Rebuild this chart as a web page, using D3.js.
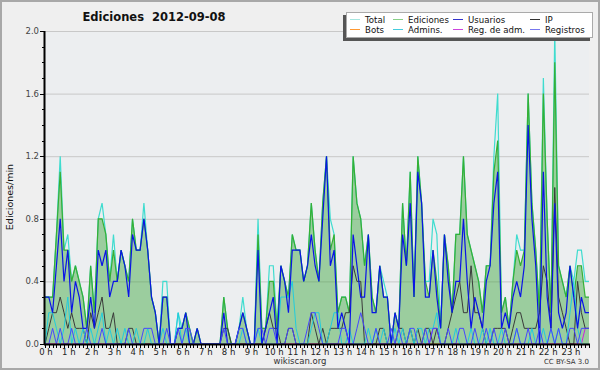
<!DOCTYPE html>
<html>
<head>
<meta charset="utf-8">
<script src="https://cdn.jsdelivr.net/npm/d3@7"></script>
<style>
body { margin: 0; background: #fff; }
svg text { font-family: "DejaVu Sans", sans-serif; }
</style>
</head>
<body>
<div id="chart"></div>
<script>
// 10-minute bins, edits per minute
const hourLabels = d3.range(24).map(function (h) { return h + " h"; });
const yTicks = [0.0, 0.4, 0.8, 1.2, 1.6, 2.0];

const total = [0.3,0.3,0.3,0.7,1.2,0.6,0.7,0.4,0.5,0.4, 0.3,0.1,0.5,0.2,0.8,0.9,0.7,0.4,0.7,0.4,
  0.6,0.5,0.4,0.8,0.6,0.6,0.9,0.6,0.3,0.2, 0.0,0.4,0.4,0.0,0.0,0.2,0.1,0.2,0.1,0.0,
  0.1,0.0,0.0,0.0,0.0,0.0,0.0,0.3,0.1,0.0, 0.0,0.1,0.3,0.1,0.0,0.0,0.8,0.1,0.1,0.5,
  0.5,0.1,0.5,0.4,0.3,0.7,0.6,0.6,0.4,0.5, 0.9,0.6,0.4,0.9,1.2,0.8,0.7,0.2,0.3,0.3,
  0.2,1.2,0.9,0.8,0.5,0.7,0.3,0.2,0.5,0.4, 0.3,0.0,0.2,0.1,0.9,0.5,1.1,0.3,1.2,0.9,
  0.4,0.4,0.8,0.7,0.1,0.7,0.5,0.2,0.7,0.7, 1.2,0.7,0.6,0.5,0.4,0.2,0.5,0.5,1.2,1.6,
  0.2,0.3,0.1,0.4,0.7,0.6,0.6,1.6,0.9,0.6, 0.2,1.7,0.8,0.2,2.0,0.5,0.4,0.3,0.5,0.4,
  0.6,0.6,0.4,0.4];
const edits = [0.3,0.3,0.3,0.7,1.1,0.6,0.6,0.4,0.5,0.4, 0.3,0.1,0.5,0.2,0.8,0.8,0.7,0.4,0.6,0.4,
  0.6,0.5,0.4,0.8,0.6,0.6,0.8,0.6,0.3,0.2, 0.0,0.3,0.3,0.0,0.0,0.1,0.1,0.2,0.1,0.0,
  0.1,0.0,0.0,0.0,0.0,0.0,0.0,0.3,0.1,0.0, 0.0,0.1,0.2,0.1,0.0,0.0,0.7,0.1,0.1,0.4,
  0.4,0.1,0.5,0.4,0.3,0.7,0.6,0.6,0.4,0.5, 0.9,0.6,0.4,0.9,1.2,0.6,0.7,0.2,0.3,0.3,
  0.2,1.2,0.9,0.8,0.5,0.7,0.3,0.2,0.5,0.3, 0.3,0.0,0.2,0.1,0.9,0.5,1.1,0.3,1.2,0.9,
  0.4,0.3,0.6,0.4,0.1,0.7,0.5,0.2,0.7,0.7, 1.2,0.7,0.6,0.5,0.4,0.2,0.5,0.5,1.1,1.3,
  0.2,0.3,0.1,0.4,0.6,0.5,0.6,1.6,0.9,0.6, 0.2,1.6,0.8,0.2,1.8,0.5,0.4,0.3,0.5,0.3,
  0.5,0.5,0.3,0.3];
const users = [0.3,0.3,0.2,0.5,0.8,0.4,0.6,0.2,0.4,0.3, 0.1,0.1,0.3,0.1,0.6,0.5,0.6,0.3,0.4,0.4,
  0.6,0.5,0.3,0.7,0.6,0.6,0.8,0.6,0.3,0.2, 0.0,0.3,0.3,0.0,0.0,0.1,0.1,0.2,0.0,0.0,
  0.1,0.0,0.0,0.0,0.0,0.0,0.0,0.2,0.0,0.0, 0.0,0.1,0.2,0.1,0.0,0.0,0.6,0.0,0.1,0.2,
  0.3,0.0,0.5,0.4,0.2,0.6,0.6,0.6,0.4,0.5, 0.7,0.5,0.4,0.8,1.2,0.5,0.6,0.1,0.2,0.1,
  0.0,0.7,0.5,0.3,0.3,0.7,0.2,0.2,0.5,0.3, 0.3,0.0,0.2,0.1,0.7,0.5,0.9,0.3,1.1,0.9,
  0.3,0.3,0.6,0.3,0.1,0.7,0.4,0.2,0.4,0.4, 0.8,0.4,0.1,0.3,0.2,0.1,0.4,0.5,0.9,1.1,
  0.1,0.2,0.1,0.3,0.4,0.3,0.5,1.4,0.8,0.5, 0.0,1.1,0.3,0.1,0.9,0.2,0.1,0.2,0.5,0.3,
  0.1,0.3,0.2,0.2];
const ip = [0.0,0.1,0.2,0.2,0.3,0.2,0.1,0.2,0.1,0.1, 0.1,0.0,0.2,0.1,0.2,0.3,0.1,0.1,0.2,0.0,
  0.0,0.0,0.1,0.1,0.0,0.0,0.0,0.0,0.0,0.0, 0.0,0.0,0.0,0.0,0.0,0.0,0.0,0.0,0.0,0.0,
  0.0,0.0,0.0,0.0,0.0,0.0,0.0,0.1,0.1,0.0, 0.0,0.0,0.0,0.0,0.0,0.0,0.0,0.0,0.1,0.2,
  0.1,0.1,0.0,0.0,0.1,0.1,0.0,0.0,0.0,0.0, 0.2,0.1,0.0,0.1,0.0,0.1,0.1,0.1,0.1,0.2,
  0.2,0.5,0.4,0.4,0.0,0.0,0.0,0.0,0.1,0.1, 0.0,0.0,0.0,0.1,0.1,0.0,0.1,0.0,0.1,0.0,
  0.1,0.1,0.0,0.1,0.0,0.0,0.1,0.2,0.3,0.4, 0.2,0.2,0.5,0.2,0.2,0.1,0.0,0.0,0.1,0.1,
  0.1,0.1,0.0,0.1,0.2,0.2,0.1,0.1,0.1,0.1, 0.2,0.5,0.4,0.1,1.0,0.3,0.2,0.1,0.0,0.0,
  0.4,0.2,0.1,0.1];
const bots = d3.range(144).map(function () { return 0; });
const admins = [0.0,0.2,0.2,0.1,0.0,0.1,0.3,0.0,0.1,0.0, 0.1,0.0,0.1,0.0,0.1,0.2,0.0,0.1,0.0,0.1,
  0.0,0.1,0.0,0.0,0.1,0.0,0.0,0.1,0.0,0.0, 0.0,0.1,0.0,0.0,0.0,0.2,0.0,0.1,0.0,0.0,
  0.0,0.0,0.0,0.0,0.0,0.0,0.0,0.0,0.0,0.0, 0.0,0.0,0.1,0.0,0.0,0.0,0.1,0.0,0.0,0.0,
  0.0,0.0,0.3,0.3,0.3,0.4,0.1,0.0,0.0,0.0, 0.1,0.2,0.2,0.0,0.0,0.1,0.2,0.2,0.0,0.0,
  0.1,0.0,0.0,0.0,0.0,0.1,0.0,0.1,0.0,0.1, 0.0,0.0,0.1,0.0,0.1,0.0,0.1,0.0,0.1,0.1,
  0.0,0.1,0.1,0.2,0.0,0.0,0.0,0.0,0.1,0.0, 0.0,0.0,0.1,0.0,0.0,0.1,0.0,0.1,0.0,0.0,
  0.1,0.0,0.0,0.0,0.1,0.0,0.0,0.0,0.1,0.0, 0.0,0.1,0.0,0.1,0.0,0.1,0.0,0.0,0.2,0.4,
  0.1,0.0,0.0,0.0];
const regAdm = [0,0,0,0,0,0,0,0,0,0, 0,0,0,0,0,0,0,0,0,0, 0,0,0,0,0,0,0,0,0,0,
  0,0,0,0,0,0,0,0,0,0, 0,0,0,0,0,0,0,0,0,0, 0,0,0,0,0,0,0,0,0,0,
  0,0,0,0,0,0,0,0,0,0, 0,0,0,0,0,0,0,0,0,0, 0,0,0,0,0,0,0,0,0,0,
  0,0,0,0,0,0,0,0,0,0, 0,0,0.1,0.1,0,0,0,0,0,0, 0,0,0,0,0,0,0,0,0,0,
  0,0,0,0,0,0,0,0,0,0, 0,0,0,0,0,0,0,0,0,0, 0,0,0.1,0.1];
const registros = [0.0,0.0,0.1,0.0,0.1,0.0,0.0,0.1,0.0,0.0, 0.0,0.1,0.0,0.0,0.0,0.1,0.0,0.0,0.0,0.0,
  0.0,0.0,0.1,0.0,0.0,0.0,0.1,0.1,0.1,0.0, 0.0,0.0,0.1,0.0,0.0,0.1,0.0,0.1,0.1,0.0,
  0.0,0.0,0.0,0.0,0.0,0.0,0.0,0.1,0.0,0.0, 0.0,0.1,0.1,0.0,0.0,0.0,0.1,0.1,0.0,0.1,
  0.1,0.0,0.0,0.0,0.1,0.1,0.0,0.0,0.0,0.1, 0.2,0.2,0.1,0.0,0.0,0.0,0.0,0.0,0.1,0.1,
  0.0,0.0,0.1,0.2,0.1,0.0,0.0,0.1,0.0,0.0, 0.0,0.1,0.0,0.1,0.0,0.0,0.1,0.1,0.0,0.0,
  0.1,0.0,0.1,0.1,0.0,0.0,0.1,0.0,0.0,0.1, 0.1,0.0,0.0,0.1,0.0,0.0,0.1,0.0,0.1,0.0,
  0.0,0.1,0.0,0.0,0.1,0.0,0.0,0.1,0.0,0.0, 0.1,0.0,0.0,0.1,0.0,0.1,0.0,0.0,0.1,0.1,
  0.0,0.1,0.1,0.1];

const series = [
  { name: "Total", values: total, color: "#3fdccf", legend: "#a6e6e0", width: 1.2 },
  { name: "Ediciones", values: edits, color: "#35b035", legend: "#88d088", width: 1.2 },
  { name: "Usuarios", values: users, color: "#0a14e6", legend: "#3333cc", width: 1.2 },
  { name: "IP", values: ip, color: "#3a3a3a", legend: "#333333", width: 1 },
  { name: "Bots", values: bots, color: "#ff9933", legend: "#ff9933", width: 1 },
  { name: "Admins.", values: admins, color: "#22ccdd", legend: "#44ccdd", width: 1 },
  { name: "Reg. de adm.", values: regAdm, color: "#cc22dd", legend: "#cc44dd", width: 1 },
  { name: "Registros", values: registros, color: "#4646ff", legend: "#7777ee", width: 1 }
];

const svg = d3.select("#chart")
  .append("svg")
  .attr("width", 600)
  .attr("height", 370);

// background + frame
svg.append("rect")
  .attr("x", 1).attr("y", 1)
  .attr("width", 598).attr("height", 368)
  .attr("fill", "#efefef")
  .attr("stroke", "#a8a8a8")
  .attr("stroke-width", 2);

const xScale = d3.scaleLinear().domain([0, 143]).range([45, 589]);
const yScale = d3.scaleLinear().domain([0, 2]).range([344, 31]);

svg.append("rect")
  .attr("x", 45).attr("y", 31)
  .attr("width", 544).attr("height", 313)
  .attr("fill", "#eceef0");

// gridlines
svg.append("g")
  .selectAll("line")
  .data(yTicks.slice(1))
  .join("line")
  .attr("x1", 45).attr("x2", 589)
  .attr("y1", function (d) { return yScale(d) + 0.5; })
  .attr("y2", function (d) { return yScale(d) + 0.5; })
  .attr("stroke", "#c8c8c8")
  .attr("stroke-width", 1);

const line = function (vals) {
  return d3.line()
    .x(function (d, i) { return xScale(i); })
    .y(function (d) { return yScale(d); })(vals);
};

const area = d3.area()
  .x(function (d, i) { return xScale(i); })
  .y0(yScale(0))
  .y1(function (d) { return yScale(d); });

// Total line
svg.append("path")
  .attr("d", line(total))
  .attr("fill", "none")
  .attr("stroke", series[0].color)
  .attr("stroke-width", series[0].width);

// Ediciones area + line
svg.append("path")
  .attr("d", area(edits))
  .attr("fill", "#3aa53a")
  .attr("fill-opacity", 0.45);

svg.append("path")
  .attr("d", line(edits))
  .attr("fill", "none")
  .attr("stroke", series[1].color)
  .attr("stroke-width", series[1].width);

// other series
[4, 6, 3, 5, 2, 7].forEach(function (k) {
  svg.append("path")
    .attr("d", line(series[k].values))
    .attr("fill", "none")
    .attr("stroke", series[k].color)
    .attr("stroke-width", series[k].width)
    .attr("stroke-linejoin", "miter");
});

// axes
const axisG = svg.append("g");
axisG.selectAll(".xt")
  .data(d3.range(144))
  .join("line")
  .attr("x1", function (d) { return Math.round(xScale(d)) + 0.5; })
  .attr("x2", function (d) { return Math.round(xScale(d)) + 0.5; })
  .attr("y1", 344).attr("y2", 348)
  .attr("stroke", "#000");

axisG.selectAll(".yt")
  .data(d3.range(0, 21))
  .join("line")
  .attr("x1", function (d) { return d % 4 === 0 ? 40 : 42; })
  .attr("x2", 45)
  .attr("y1", function (d) { return Math.round(yScale(d / 10)) + 0.5; })
  .attr("y2", function (d) { return Math.round(yScale(d / 10)) + 0.5; })
  .attr("stroke", "#000");

axisG.append("line")
  .attr("x1", 44.5).attr("x2", 44.5)
  .attr("y1", 31).attr("y2", 345)
  .attr("stroke", "#000").attr("stroke-width", 2);
axisG.append("line")
  .attr("x1", 44).attr("x2", 590)
  .attr("y1", 344.5).attr("y2", 344.5)
  .attr("stroke", "#000").attr("stroke-width", 2);

axisG.selectAll(".yl")
  .data(yTicks)
  .join("text")
  .attr("x", 39)
  .attr("y", function (d) { return yScale(d) + 3; })
  .attr("text-anchor", "end")
  .attr("font-size", "8.5px")
  .attr("fill", "#444")
  .text(function (d) { return d.toFixed(1); });

axisG.selectAll(".xl")
  .data(hourLabels)
  .join("text")
  .attr("x", function (d, i) { return xScale(i * 6) + 1; })
  .attr("y", 355)
  .attr("text-anchor", "middle")
  .attr("font-size", "8.5px")
  .attr("fill", "#222")
  .text(function (d) { return d; });

// titles
svg.append("text")
  .attr("x", 154).attr("y", 21)
  .attr("text-anchor", "middle")
  .attr("font-size", "11.5px")
  .attr("font-weight", "bold")
  .attr("fill", "#111")
  .style("white-space", "pre")
  .text("Ediciones  2012-09-08");

svg.append("text")
  .attr("transform", "translate(13,197) rotate(-90)")
  .attr("text-anchor", "middle")
  .attr("font-family", "DejaVu Sans Mono")
  .attr("font-size", "9.5px")
  .attr("fill", "#111")
  .text("Ediciones/min");

svg.append("text")
  .attr("x", 300).attr("y", 364)
  .attr("text-anchor", "middle")
  .attr("font-size", "8.5px")
  .attr("fill", "#333")
  .text("wikiscan.org");

svg.append("text")
  .attr("x", 589).attr("y", 364)
  .attr("text-anchor", "end")
  .attr("font-size", "7px")
  .attr("fill", "#333")
  .text("CC BY-SA 3.0");

// legend
svg.append("rect")
  .attr("x", 343).attr("y", 15)
  .attr("width", 247).attr("height", 26)
  .attr("fill", "#555");
svg.append("rect")
  .attr("x", 346.5).attr("y", 12.5)
  .attr("width", 246).attr("height", 25)
  .attr("fill", "#fff")
  .attr("stroke", "#aaa");

const colX = [350, 393, 453, 530];
const leg = svg.append("g")
  .selectAll("g")
  .data(series)
  .join("g")
  .attr("transform", function (d, i) {
    return "translate(" + colX[i % 4] + "," + (i < 4 ? 19.5 : 29.5) + ")";
  });
leg.append("line")
  .attr("x1", 0).attr("x2", 10)
  .attr("stroke", function (d) { return d.legend; })
  .attr("stroke-width", 1);
leg.append("text")
  .attr("x", 15).attr("y", 3.5)
  .attr("font-size", "8.6px")
  .attr("fill", "#111")
  .text(function (d) { return d.name; });
</script>
</body>
</html>
